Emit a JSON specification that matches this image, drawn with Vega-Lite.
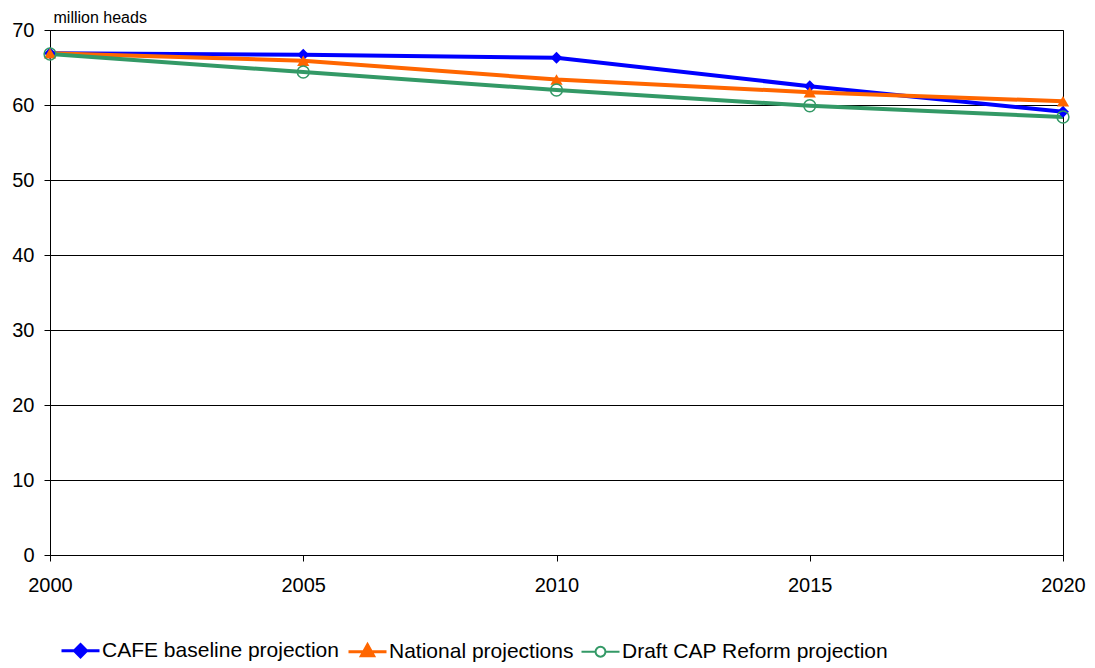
{
  "$schema": "https://vega.github.io/schema/vega-lite/v6.json",
  "width": 1013,
  "height": 525,
  "autosize": "none",
  "padding": {"left": 50, "top": 30, "right": 32, "bottom": 113},
  "background": "white",
  "config": {
    "font": "Liberation Sans",
    "view": {"stroke": "#000", "strokeWidth": 1}
  },
  "data": {
    "values": [
      {"year": 2000, "series": "CAFE baseline projection", "value": 66.9},
      {"year": 2005, "series": "CAFE baseline projection", "value": 66.7},
      {"year": 2010, "series": "CAFE baseline projection", "value": 66.3},
      {"year": 2015, "series": "CAFE baseline projection", "value": 62.5},
      {"year": 2020, "series": "CAFE baseline projection", "value": 59.1},
      {"year": 2000, "series": "National projections", "value": 66.9},
      {"year": 2005, "series": "National projections", "value": 65.9},
      {"year": 2010, "series": "National projections", "value": 63.4},
      {"year": 2015, "series": "National projections", "value": 61.7},
      {"year": 2020, "series": "National projections", "value": 60.5},
      {"year": 2000, "series": "Draft CAP Reform projection", "value": 66.8},
      {"year": 2005, "series": "Draft CAP Reform projection", "value": 64.4},
      {"year": 2010, "series": "Draft CAP Reform projection", "value": 62.0},
      {"year": 2015, "series": "Draft CAP Reform projection", "value": 59.9},
      {"year": 2020, "series": "Draft CAP Reform projection", "value": 58.4}
    ]
  },
  "encoding": {
    "x": {
      "field": "year", "type": "quantitative",
      "scale": {"domain": [2000, 2020], "nice": false, "zero": false},
      "axis": {
        "values": [2000, 2005, 2010, 2015, 2020], "format": "d", "title": null,
        "grid": false, "domainColor": "#000", "tickColor": "#000", "tickSize": 6,
        "labelFontSize": 20, "labelColor": "#000", "labelPadding": 14, "labelFlush": false
      }
    },
    "y": {
      "field": "value", "type": "quantitative",
      "scale": {"domain": [0, 70], "nice": false},
      "axis": {
        "values": [0, 10, 20, 30, 40, 50, 60, 70], "title": "million heads",
        "titleAngle": 0, "titleAlign": "left", "titleBaseline": "alphabetic",
        "titleX": 3, "titleY": -8, "titleFontSize": 16, "titleFontWeight": "normal", "titleColor": "#000",
        "grid": true, "gridColor": "#000", "gridWidth": 1,
        "domainColor": "#000", "tickColor": "#000", "tickSize": 6,
        "labelFontSize": 20, "labelColor": "#000", "labelPadding": 10
      }
    }
  },
  "layer": [
    {
      "mark": {"type": "line", "strokeWidth": 4},
      "encoding": {
        "color": {
          "field": "series", "type": "nominal",
          "sort": ["CAFE baseline projection", "National projections", "Draft CAP Reform projection"],
          "scale": {
            "domain": ["CAFE baseline projection", "National projections", "Draft CAP Reform projection"],
            "range": ["#0000FF", "#FF6600", "#339966"]
          },
          "legend": {
            "orient": "none", "direction": "horizontal", "title": null,
            "legendX": 20, "legendY": 610,
            "labelFontSize": 21, "labelColor": "#000", "labelOffset": 11, "labelLimit": 0,
            "columnPadding": 3, "symbolSize": 1444, "symbolStrokeWidth": 3,
            "encode": {
              "symbols": {
                "update": {
                  "shape": {"signal": "datum.value == 'CAFE baseline projection' ? 'M-1,0H1M0,-0.32L0.32,0L0,0.32L-0.32,0Z' : datum.value == 'National projections' ? 'M-1,0H1M0,-0.36L0.32,0.22L-0.32,0.22Z' : 'M-1,0H-0.26M0.26,0H1M0.26,0A0.26,0.26,0,1,1,-0.26,0A0.26,0.26,0,1,1,0.26,0Z'"},
                  "fill": {"signal": "datum.value == 'CAFE baseline projection' ? '#0000FF' : datum.value == 'National projections' ? '#FF6600' : 'white'"},
                  "stroke": {"signal": "datum.value == 'CAFE baseline projection' ? '#0000FF' : datum.value == 'National projections' ? '#FF6600' : '#339966'"},
                  "strokeWidth": {"signal": "datum.value == 'Draft CAP Reform projection' ? 2 : 3"},
                  "opacity": {"value": 1}
                }
              }
            }
          }
        }
      }
    },
    {
      "transform": [{"filter": "datum.series == 'CAFE baseline projection'"}],
      "mark": {"type": "point", "shape": "diamond", "filled": true, "color": "#0000FF", "size": 140, "opacity": 1}
    },
    {
      "transform": [{"filter": "datum.series == 'National projections'"}],
      "mark": {"type": "point", "shape": "triangle-up", "filled": true, "color": "#FF6600", "size": 150, "opacity": 1}
    },
    {
      "transform": [{"filter": "datum.series == 'Draft CAP Reform projection'"}],
      "mark": {"type": "point", "shape": "circle", "filled": false, "stroke": "#339966", "strokeWidth": 1.5, "size": 140, "opacity": 1}
    }
  ]
}
